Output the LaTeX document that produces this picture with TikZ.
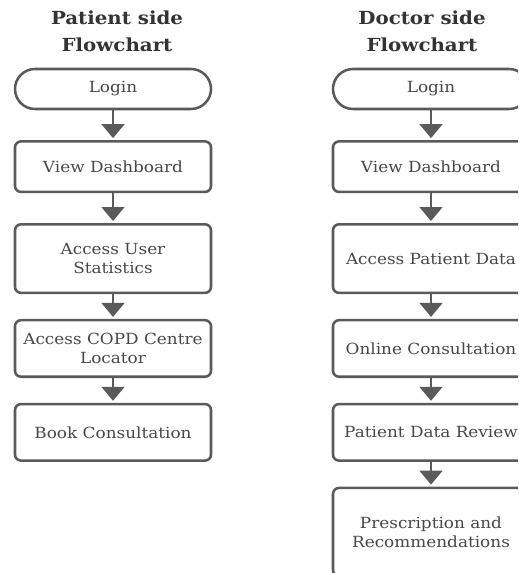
\documentclass[tikz,border=0pt]{standalone}
\usepackage{fontspec}
\setmainfont{DejaVu Serif}[FakeStretch=1.1]
\usetikzlibrary{positioning,arrows.meta}
\definecolor{linegray}{HTML}{5A5A5A}
\definecolor{textgray}{HTML}{474747}
\definecolor{titlegray}{HTML}{333333}

\begin{document}
\begin{tikzpicture}[
  x=0.75pt, y=-0.75pt,
  box/.style={draw=linegray, line width=1.9pt, rounded corners=4.5pt, align=center,
              text=textgray, font=\fontsize{11.5}{14.25}\selectfont,
              minimum width=147pt, inner sep=2pt},
  term/.style={box, minimum height=30pt, rounded corners=15pt},
  title/.style={align=center, text=titlegray, font=\fontsize{13.5}{20.25}\selectfont\bfseries},
  flow/.style={draw=linegray, line width=1.9pt, shorten >=1.5pt,
               -{Triangle[width=17pt, length=10.5pt]}}
]
\clip (0,0) rectangle (518,573);

% patient column
\node[title] (ptitle) at (117,31) {Patient side\\Flowchart};
\node[term] (plogin) at (113,89) {Login};
\node[box, minimum height=37.9pt, below=22.4pt of plogin] (pdash) {View Dashboard};
\node[box, minimum height=51.4pt, below=22.4pt of pdash] (pstats) {Access User\\Statistics};
\node[box, minimum height=42.4pt, below=18.6pt of pstats] (plocator) {Access COPD Centre\\Locator};
\node[box, minimum height=42.4pt, below=18.6pt of plocator] (pbook) {Book Consultation};

% doctor column
\node[title] (dtitle) at (422,31) {Doctor side\\Flowchart};
\node[term] (dlogin) at (431,89) {Login};
\node[box, minimum height=37.9pt, below=22.4pt of dlogin] (ddash) {View Dashboard};
\node[box, minimum height=51.4pt, below=22.4pt of ddash] (dpatient) {Access Patient Data};
\node[box, minimum height=42.4pt, below=18.6pt of dpatient] (donline) {Online Consultation};
\node[box, minimum height=42.4pt, below=18.6pt of donline] (dreview) {Patient Data Review};
\node[box, minimum height=66pt, below=18.6pt of dreview] (dpresc) {Prescription and\\Recommendations};

\foreach \a/\b in {plogin/pdash, pdash/pstats, pstats/plocator, plocator/pbook,
                   dlogin/ddash, ddash/dpatient, dpatient/donline, donline/dreview, dreview/dpresc}
  \draw[flow] (\a) -- (\b);

\end{tikzpicture}
\end{document}
